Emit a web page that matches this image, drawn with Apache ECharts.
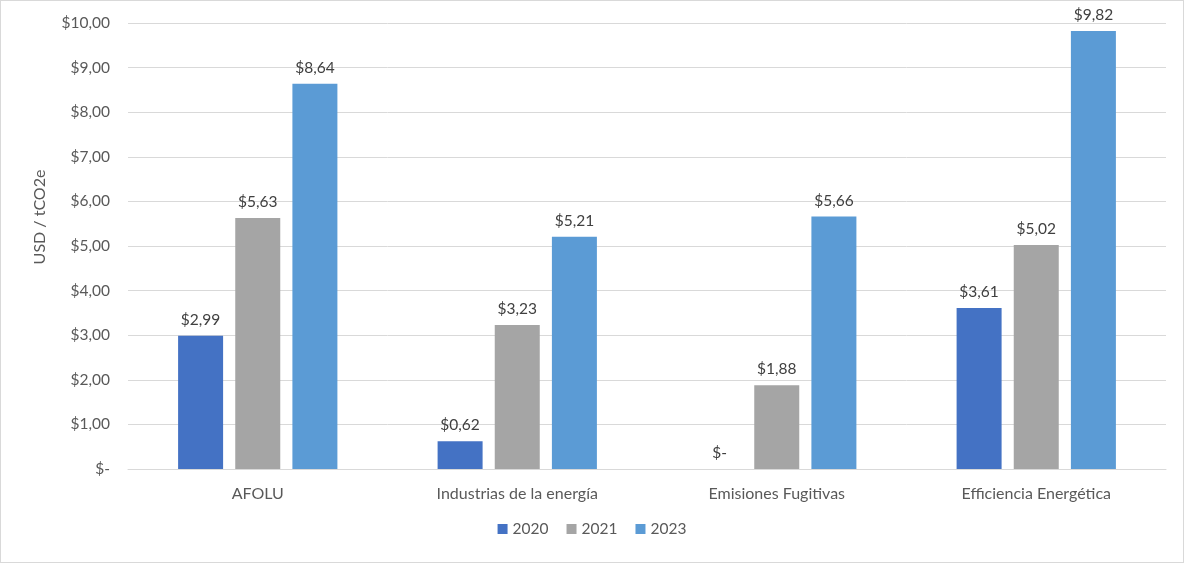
<!DOCTYPE html>
<html>
<head>
<meta charset="utf-8">
<script src="https://cdn.jsdelivr.net/npm/echarts@6/dist/echarts.min.js"></script>
<style>
  html, body { margin: 0; padding: 0; background: #fff; }
  #chart { width: 1184px; height: 563px; box-sizing: border-box; border: 1px solid #d9d9d9; }
</style>
</head>
<body>
<div id="chart"></div>
<script>
// datos del gráfico
var categorias = ['AFOLU', 'Industrias de la energía', 'Emisiones Fugitivas', 'Efficiencia Energética'];
var anios = ['2020', '2021', '2023'];
var valores2020 = [2.99, 0.62, 0, 3.61];
var valores2021 = [5.63, 3.23, 1.88, 5.02];
var valores2023 = [8.64, 5.21, 5.66, 9.82];
var colores = ['#4472C4', '#A5A5A5', '#5B9BD5'];

var fuente = 'Lato, "Open Sans", sans-serif';

// formato contable: $1,23 y $- para cero
function formatoUSD(v) {
  if (v === 0) return '$-';
  return '$' + v.toFixed(2).replace('.', ',');
}

function serie(nombre, datos, color) {
  return {
    name: nombre,
    type: 'bar',
    data: datos,
    barWidth: 45,
    barGap: '27%',
    itemStyle: { color: color },
    label: {
      show: true,
      position: 'top',
      distance: 8,
      color: '#404040',
      fontSize: 15.5,
      fontFamily: fuente,
      formatter: function (p) { return formatoUSD(p.value); }
    }
  };
}

var chart = echarts.init(document.getElementById('chart'));
chart.setOption({
  animation: false,
  textStyle: { fontFamily: fuente },
  grid: { left: 127, right: 17, top: 22, bottom: 93 },
  legend: {
    data: anios,
    bottom: 20,
    left: 'center',
    itemWidth: 10,
    itemHeight: 10,
    itemGap: 18,
    icon: 'rect',
    textStyle: { color: '#595959', fontSize: 15.5, fontFamily: fuente }
  },
  xAxis: {
    type: 'category',
    data: categorias,
    axisLine: { lineStyle: { color: '#d9d9d9' } },
    axisTick: { show: false },
    axisLabel: { color: '#595959', fontSize: 16, margin: 17, fontFamily: fuente }
  },
  yAxis: {
    type: 'value',
    min: 0,
    max: 10,
    interval: 1,
    name: 'USD / tCO2e',
    nameLocation: 'middle',
    nameGap: 80,
    nameTextStyle: { color: '#595959', fontSize: 16, fontFamily: fuente, padding: [0, 0, 0, 58] },
    axisLine: { show: false },
    axisTick: { show: false },
    splitLine: { lineStyle: { color: '#d9d9d9' } },
    axisLabel: {
      color: '#595959',
      fontSize: 15.5,
      margin: 18,
      fontFamily: fuente,
      formatter: formatoUSD
    }
  },
  series: [
    serie(anios[0], valores2020, colores[0]),
    serie(anios[1], valores2021, colores[1]),
    serie(anios[2], valores2023, colores[2])
  ]
});
</script>
</body>
</html>
